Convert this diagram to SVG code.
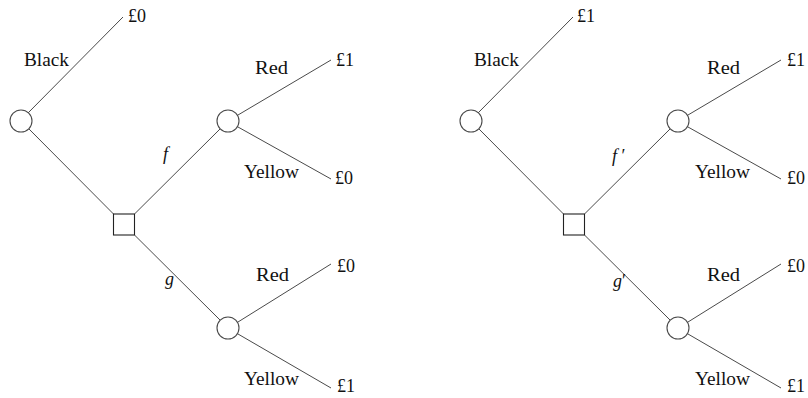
<svg xmlns="http://www.w3.org/2000/svg" width="808" height="398" viewBox="0 0 808 398">
<style>
.e{stroke:#4a4a4a;stroke-width:1;fill:none}
.c{fill:#ffffff;stroke:#4a4a4a;stroke-width:1.1}
.s{fill:#ffffff;stroke:#222222;stroke-width:1.1}
</style>
<rect x="0" y="0" width="808" height="398" fill="#ffffff"/>
<g id="connectors">
  <g id="left-edges">
    <line class="e" x1="28" y1="113" x2="123" y2="17"/>
    <line class="e" x1="29" y1="129" x2="113.5" y2="214"/>
    <line class="e" x1="134.5" y1="214" x2="220" y2="129"/>
    <line class="e" x1="134.5" y1="235" x2="220" y2="320"/>
    <line class="e" x1="238" y1="115" x2="331" y2="60"/>
    <line class="e" x1="238" y1="127" x2="331" y2="179"/>
    <line class="e" x1="238" y1="322" x2="331" y2="264"/>
    <line class="e" x1="238" y1="334" x2="331" y2="388"/>
  </g>
  <g id="right-edges" transform="translate(450,0)">
    <line class="e" x1="28" y1="113" x2="123" y2="17"/>
    <line class="e" x1="29" y1="129" x2="113.5" y2="214"/>
    <line class="e" x1="134.5" y1="214" x2="220" y2="129"/>
    <line class="e" x1="134.5" y1="235" x2="220" y2="320"/>
    <line class="e" x1="238" y1="115" x2="331" y2="60"/>
    <line class="e" x1="238" y1="127" x2="331" y2="179"/>
    <line class="e" x1="238" y1="322" x2="331" y2="264"/>
    <line class="e" x1="238" y1="334" x2="331" y2="388"/>
  </g>
</g>
<g id="L-chance-root"><circle class="c" cx="21" cy="121" r="11"/></g>
<g id="L-decision"><rect class="s" x="113.5" y="214" width="21" height="21"/></g>
<g id="L-chance-f"><circle class="c" cx="228" cy="121" r="11"/></g>
<g id="L-chance-g"><circle class="c" cx="228" cy="328" r="11"/></g>
<g id="R-chance-root"><circle class="c" cx="471" cy="121" r="11"/></g>
<g id="R-decision"><rect class="s" x="563.5" y="214" width="21" height="21"/></g>
<g id="R-chance-f"><circle class="c" cx="678" cy="121" r="11"/></g>
<g id="R-chance-g"><circle class="c" cx="678" cy="328" r="11"/></g>
<g id="labels-left" font-family="Liberation Serif" font-size="18" fill="#111111">
  <text x="128" y="22">£0</text>
  <text x="24" y="66" textLength="45" lengthAdjust="spacingAndGlyphs">Black</text>
  <text x="255" y="74" textLength="33" lengthAdjust="spacingAndGlyphs">Red</text>
  <text x="336" y="66">£1</text>
  <text x="163" y="160" font-style="italic">f</text>
  <text x="244" y="178" textLength="55" lengthAdjust="spacingAndGlyphs">Yellow</text>
  <text x="335" y="184">£0</text>
  <text x="165" y="285" font-style="italic">g</text>
  <text x="256" y="281" textLength="33" lengthAdjust="spacingAndGlyphs">Red</text>
  <text x="337" y="272">£0</text>
  <text x="244" y="385" textLength="55" lengthAdjust="spacingAndGlyphs">Yellow</text>
  <text x="337" y="392">£1</text>
</g>
<g id="labels-right" font-family="Liberation Serif" font-size="18" fill="#111111">
  <text x="577" y="22">£1</text>
  <text x="474" y="66" textLength="45" lengthAdjust="spacingAndGlyphs">Black</text>
  <text x="707" y="74" textLength="33" lengthAdjust="spacingAndGlyphs">Red</text>
  <text x="787" y="66">£1</text>
  <text x="612" y="162"><tspan font-style="italic">f</tspan> ′</text>
  <text x="695" y="178" textLength="55" lengthAdjust="spacingAndGlyphs">Yellow</text>
  <text x="787" y="184">£0</text>
  <text x="613" y="287"><tspan font-style="italic">g</tspan>′</text>
  <text x="707" y="281" textLength="33" lengthAdjust="spacingAndGlyphs">Red</text>
  <text x="787" y="272">£0</text>
  <text x="695" y="385" textLength="55" lengthAdjust="spacingAndGlyphs">Yellow</text>
  <text x="787" y="392">£1</text>
</g>
</svg>
